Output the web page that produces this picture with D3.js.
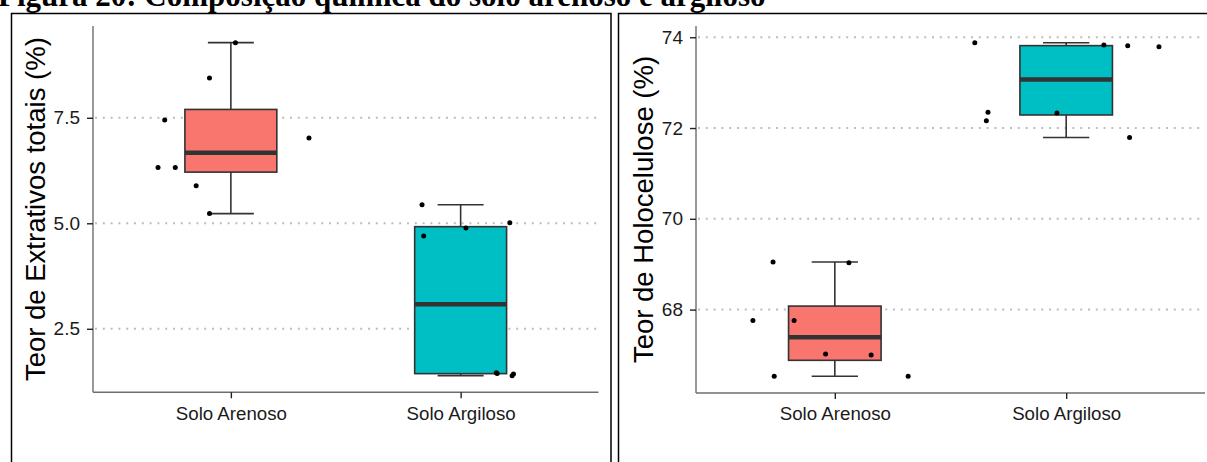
<!DOCTYPE html>
<html>
<head>
<meta charset="utf-8">
<script src="https://cdn.jsdelivr.net/npm/d3@7"></script>
<style>
  html, body { margin: 0; padding: 0; background: #fff; }
  svg { display: block; }
</style>
</head>
<body>
<svg id="chart" width="1207" height="462"></svg>
<script>
// Categories shared by both panels
const categories = ["Solo Arenoso", "Solo Argiloso"];

// Teor de extrativos totais (%) — eight replicates per soil
const extrativosArenoso = [9.28, 8.44, 7.45, 7.02, 6.32, 6.32, 5.89, 5.23];
const extrativosArgiloso = [5.44, 5.01, 4.89, 4.70, 1.46, 1.44, 1.43, 1.39];
// horizontal jitter of each replicate, in category steps
const extrativosJitterArenoso = [0.02, -0.093, -0.288, 0.34, -0.317, -0.242, -0.151, -0.093];
const extrativosJitterArgiloso = [-0.168, 0.214, 0.023, -0.161, 0.155, 0.159, 0.230, 0.224];
const extrativosTicks = [2.5, 5.0, 7.5];

// Teor de holocelulose (%)
const holoArenoso = [69.05, 69.03, 67.76, 67.76, 67.02, 67.00, 66.53, 66.53];
const holoArgiloso = [73.88, 73.83, 73.81, 73.79, 72.35, 72.16, 72.33, 71.79];
const holoJitterArenoso = [-0.267, 0.061, -0.354, -0.176, -0.040, 0.157, -0.262, 0.317];
const holoJitterArgiloso = [-0.395, 0.163, 0.266, 0.401, -0.338, -0.345, -0.040, 0.274];
const holoTicks = [68, 70, 72, 74];

const fills = ["#F8766D", "#00BFC4"];

const svg = d3.select("#chart");
svg.append("rect").attr("width", 1207).attr("height", 462).attr("fill", "#fff");

// Caption (its upper part runs off the top of the page)
svg.append("text")
  .attr("x", -2).attr("y", 6)
  .attr("font-family", "'Liberation Serif', 'Times New Roman', serif")
  .attr("font-weight", "bold")
  .attr("font-size", 31)
  .attr("fill", "#000")
  .text("Figura 20: Composição química do solo arenoso e argiloso");

function boxStats(values) {
  const s = values.slice().sort(d3.ascending);
  const q1 = d3.quantile(s, 0.25), med = d3.quantile(s, 0.5), q3 = d3.quantile(s, 0.75);
  const iqr = q3 - q1;
  const lo = d3.min(s.filter(v => v >= q1 - 1.5 * iqr));
  const hi = d3.max(s.filter(v => v <= q3 + 1.5 * iqr));
  return { q1, med, q3, lo, hi };
}

function panel(cfg) {
  const g = svg.append("g");

  // frame around the panel
  g.append("rect")
    .attr("x", cfg.frame[0]).attr("y", cfg.frame[1])
    .attr("width", cfg.frame[2]).attr("height", cfg.frame[3])
    .attr("fill", "none").attr("stroke", "#000").attr("stroke-width", 1.5);

  const all = cfg.groups.flatMap(d => d.values);
  const [mn, mx] = d3.extent(all);
  const pad = (mx - mn) * 0.05;
  const y = d3.scaleLinear().domain([mn - pad, mx + pad]).range([cfg.bottom, cfg.top]);
  const x = d3.scalePoint().domain(categories).range([cfg.left, cfg.right]).padding(0.6);
  const step = x.step();

  // dotted horizontal grid
  g.append("g").selectAll("line").data(cfg.ticks).join("line")
    .attr("x1", cfg.left + 2).attr("x2", cfg.right)
    .attr("y1", d => y(d)).attr("y2", d => y(d))
    .attr("stroke", "#bdbdbd").attr("stroke-width", 2)
    .attr("stroke-dasharray", "2 5.8");

  // y axis
  const yAxis = g.append("g")
    .attr("transform", `translate(${cfg.left},0)`)
    .call(d3.axisLeft(y).tickValues(cfg.ticks).tickFormat(cfg.fmt).tickSize(6).tickPadding(7));
  yAxis.select(".domain").attr("stroke", "#6e6e6e").attr("stroke-width", 1.4)
    .attr("d", `M0,${cfg.bottom}V${cfg.top}`);
  yAxis.selectAll(".tick line").attr("stroke", "#222").attr("stroke-width", 1.4);
  yAxis.selectAll(".tick text")
    .attr("font-family", "'Liberation Sans', Arial, sans-serif")
    .attr("font-size", 19).attr("fill", "#1a1a1a");

  // x axis
  const xAxis = g.append("g")
    .attr("transform", `translate(0,${cfg.bottom})`)
    .call(d3.axisBottom(x).tickSize(6).tickPadding(8));
  xAxis.select(".domain").attr("stroke", "#6e6e6e").attr("stroke-width", 1.4)
    .attr("d", `M${cfg.left},0H${cfg.right}`);
  xAxis.selectAll(".tick line").attr("stroke", "#222").attr("stroke-width", 1.4);
  xAxis.selectAll(".tick text")
    .attr("font-family", "'Liberation Sans', Arial, sans-serif")
    .attr("font-size", 18.7).attr("fill", "#1a1a1a");

  // y axis title
  g.append("text")
    .attr("transform", `translate(${cfg.titleX},${(cfg.top + cfg.bottom) / 2}) rotate(-90)`)
    .attr("text-anchor", "middle")
    .attr("font-family", "'Liberation Sans', Arial, sans-serif")
    .attr("font-size", 27.5).attr("fill", "#000")
    .text(cfg.title);

  // boxes
  cfg.groups.forEach((grp, i) => {
    const st = boxStats(grp.values);
    const cx = x(grp.cat);
    const bw = step * 0.4, cw = step * 0.2;
    const bg = g.append("g");
    // error bar caps and stem
    bg.append("line").attr("x1", cx).attr("x2", cx).attr("y1", y(st.lo)).attr("y2", y(st.hi))
      .attr("stroke", "#333").attr("stroke-width", 1.6);
    [st.lo, st.hi].forEach(v => {
      bg.append("line").attr("x1", cx - cw / 2).attr("x2", cx + cw / 2)
        .attr("y1", y(v)).attr("y2", y(v))
        .attr("stroke", "#333").attr("stroke-width", 1.6);
    });
    bg.append("rect")
      .attr("x", cx - bw / 2).attr("width", bw)
      .attr("y", y(st.q3)).attr("height", y(st.q1) - y(st.q3))
      .attr("fill", fills[i]).attr("stroke", "#333").attr("stroke-width", 1.6);
    bg.append("line").attr("x1", cx - bw / 2).attr("x2", cx + bw / 2)
      .attr("y1", y(st.med)).attr("y2", y(st.med))
      .attr("stroke", "#333").attr("stroke-width", 4.5);

    // jittered replicates
    g.append("g").selectAll("circle").data(grp.values).join("circle")
      .attr("cx", (d, k) => cx + grp.jitter[k] * step)
      .attr("cy", d => y(d))
      .attr("r", 2.5).attr("fill", "#000");
  });
}

panel({
  frame: [11.5, 13.5, 599.5, 500],
  left: 93, right: 598.5, top: 26, bottom: 392.3,
  titleX: 45,
  title: "Teor de Extrativos totais (%)",
  ticks: extrativosTicks,
  fmt: d3.format(".1f"),
  groups: [
    { cat: categories[0], values: extrativosArenoso, jitter: extrativosJitterArenoso },
    { cat: categories[1], values: extrativosArgiloso, jitter: extrativosJitterArgiloso }
  ]
});

panel({
  frame: [618.5, 13.5, 620, 500],
  left: 696, right: 1205, top: 26, bottom: 393,
  titleX: 653,
  title: "Teor de Holocelulose (%)",
  ticks: holoTicks,
  fmt: d3.format("d"),
  groups: [
    { cat: categories[0], values: holoArenoso, jitter: holoJitterArenoso },
    { cat: categories[1], values: holoArgiloso, jitter: holoJitterArgiloso }
  ]
});
</script>
</body>
</html>
